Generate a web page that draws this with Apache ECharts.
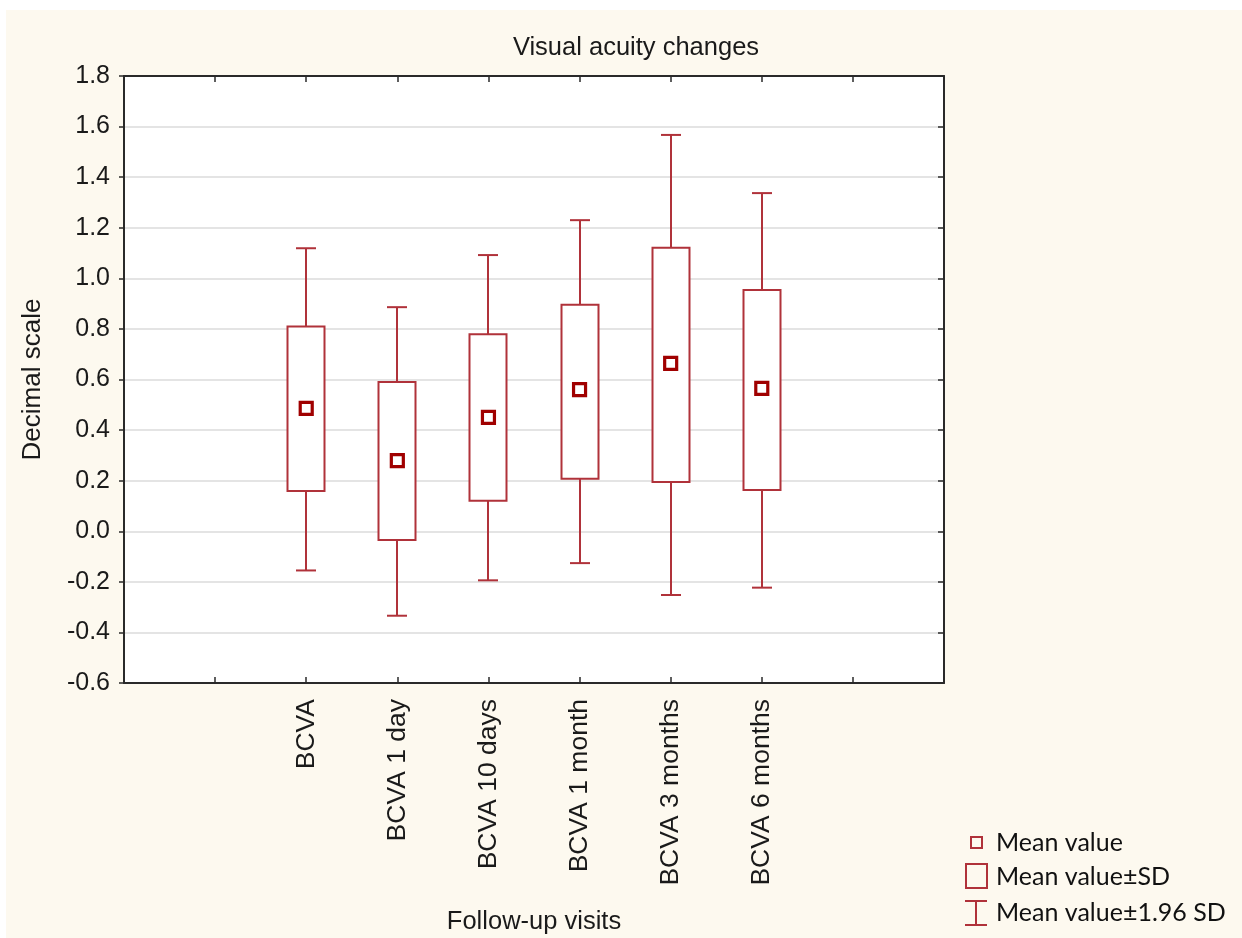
<!DOCTYPE html>
<html>
<head>
<meta charset="utf-8">
<script src="https://cdn.jsdelivr.net/npm/echarts@6/dist/echarts.min.js"></script>
<style>
  html, body { margin: 0; padding: 0; background: #ffffff; }
  #chart { width: 1242px; height: 938px; }
</style>
</head>
<body>
<div id="chart"></div>
<script>
// ---- data ----
const categories   = ['BCVA', 'BCVA 1 day', 'BCVA 10 days', 'BCVA 1 month', 'BCVA 3 months', 'BCVA 6 months'];
const meanValue    = [0.486, 0.279, 0.450, 0.560, 0.664, 0.565];
const sdLower      = [0.159, -0.035, 0.121, 0.208, 0.195, 0.163];
const sdUpper      = [0.810, 0.590, 0.779, 0.896, 1.121, 0.954];
const ci196Lower   = [-0.155, -0.334, -0.194, -0.126, -0.252, -0.223];
const ci196Upper   = [1.119, 0.886, 1.092, 1.230, 1.567, 1.337];
const yTicks       = { min: -0.6, max: 1.8, step: 0.2 };
const categoryOffset = 2;   // first category sits at the 2nd tick slot
const slotCount      = 9;

const BOX_COLOR = '#B0323A';
const MEAN_COLOR = '#A00000';
const AXIS_COLOR = '#2a2a2a';

const boxData = categories.map((c, i) => [i + categoryOffset, ci196Lower[i], sdLower[i], sdUpper[i], ci196Upper[i]]);
const meanData = categories.map((c, i) => [i + categoryOffset, meanValue[i]]);

function renderBox(params, api) {
  const x = api.value(0);
  const pLow = api.coord([x, api.value(1)]);
  const pSdLow = api.coord([x, api.value(2)]);
  const pSdHigh = api.coord([x, api.value(3)]);
  const pHigh = api.coord([x, api.value(4)]);
  const boxW = 37, capW = 20;
  const cx = Math.round(pLow[0]);
  const st = { stroke: BOX_COLOR, lineWidth: 2, fill: null };
  return {
    type: 'group',
    children: [
      { type: 'line', shape: { x1: cx, y1: pLow[1], x2: cx, y2: pSdLow[1] }, style: st },
      { type: 'line', shape: { x1: cx, y1: pSdHigh[1], x2: cx, y2: pHigh[1] }, style: st },
      { type: 'line', shape: { x1: cx - capW / 2, y1: pLow[1], x2: cx + capW / 2, y2: pLow[1] }, style: st },
      { type: 'line', shape: { x1: cx - capW / 2, y1: pHigh[1], x2: cx + capW / 2, y2: pHigh[1] }, style: st },
      { type: 'rect', shape: { x: cx - boxW / 2, y: pSdHigh[1], width: boxW, height: pSdLow[1] - pSdHigh[1] },
        style: { stroke: BOX_COLOR, lineWidth: 2, fill: '#ffffff' } }
    ]
  };
}

const chart = echarts.init(document.getElementById('chart'), null, { renderer: 'canvas' });

const FONT = 'Arial, "Liberation Sans", sans-serif';

const option = {
  backgroundColor: '#FDF9EF',
  animation: false,
  title: {
    text: 'Visual acuity changes',
    left: 631,
    top: 30,
    textAlign: 'center',
    textStyle: { fontFamily: FONT, fontSize: 25.5, fontWeight: 'normal', color: '#1a1a1a' }
  },
  grid: {
    left: 124, top: 76, width: 820, height: 607,
    containLabel: false, outerBoundsMode: 'none',
    show: true, backgroundColor: '#ffffff', borderWidth: 0
  },
  xAxis: [
    {
      type: 'value', min: 0, max: slotCount, interval: 1, position: 'bottom',
      name: 'Follow-up visits', nameLocation: 'middle', nameGap: 226,
      nameTextStyle: { fontFamily: FONT, fontSize: 25.5, color: '#1a1a1a' },
      axisLine: { show: true, onZero: false, lineStyle: { color: AXIS_COLOR, width: 2 } },
      axisTick: { show: true, inside: true, length: 6, lineStyle: { color: AXIS_COLOR, width: 1.5 } },
      splitLine: { show: false },
      axisLabel: {
        rotate: 90, margin: 16, fontFamily: FONT, fontSize: 26.5, color: '#1a1a1a',
        formatter: v => {
          const idx = Math.round(v) - categoryOffset;
          return (idx >= 0 && idx < categories.length) ? categories[idx] : '';
        }
      }
    },
    {
      type: 'value', min: 0, max: slotCount, interval: 1, position: 'top',
      axisLine: { show: true, onZero: false, lineStyle: { color: AXIS_COLOR, width: 2 } },
      axisTick: { show: true, inside: true, length: 6, lineStyle: { color: AXIS_COLOR, width: 1.5 } },
      axisLabel: { show: false },
      splitLine: { show: false }
    }
  ],
  yAxis: [
    {
      type: 'value', min: yTicks.min, max: yTicks.max, interval: yTicks.step, position: 'left',
      name: 'Decimal scale', nameLocation: 'middle', nameGap: 78, nameRotate: 90,
      nameTextStyle: { fontFamily: FONT, fontSize: 26, color: '#1a1a1a' },
      axisLine: { show: true, onZero: false, lineStyle: { color: AXIS_COLOR, width: 2 } },
      axisTick: { show: true, inside: false, length: 5, lineStyle: { color: AXIS_COLOR, width: 1.5 } },
      splitLine: { show: true, lineStyle: { color: '#E4E4E4', width: 2 } },
      axisLabel: { margin: 14, fontFamily: FONT, fontSize: 25, color: '#1a1a1a', formatter: v => v.toFixed(1) }
    },
    {
      type: 'value', min: yTicks.min, max: yTicks.max, interval: yTicks.step, position: 'right',
      axisLine: { show: true, onZero: false, lineStyle: { color: AXIS_COLOR, width: 2 } },
      axisTick: { show: true, inside: true, length: 6, lineStyle: { color: AXIS_COLOR, width: 1.5 } },
      axisLabel: { show: false },
      splitLine: { show: false }
    }
  ],
  series: [
    {
      type: 'custom', name: 'Mean value±1.96 SD', xAxisIndex: 0, yAxisIndex: 0,
      renderItem: renderBox, data: boxData, z: 3,
      encode: { x: 0, y: [1, 2, 3, 4] }
    },
    {
      type: 'scatter', name: 'Mean value', xAxisIndex: 0, yAxisIndex: 0,
      data: meanData, symbol: 'rect', symbolSize: 12, z: 4,
      itemStyle: { color: '#ffffff', borderColor: MEAN_COLOR, borderWidth: 3.2, opacity: 1 }
    }
  ],
  graphic: [
    { type: 'rect', shape: { x: 0, y: 0, width: 1242, height: 10 }, style: { fill: '#ffffff' }, silent: true },
    { type: 'rect', shape: { x: 0, y: 0, width: 6, height: 938 }, style: { fill: '#ffffff' }, silent: true },
    // legend
    { type: 'rect', shape: { x: 971, y: 837, width: 11, height: 11 }, style: { fill: null, stroke: BOX_COLOR, lineWidth: 2 } },
    { type: 'text', x: 996, y: 843, style: { text: 'Mean value', font: '25px Lato, "Open Sans", sans-serif', fill: '#111', textVerticalAlign: 'middle' } },
    { type: 'rect', shape: { x: 966, y: 864, width: 21, height: 24 }, style: { fill: null, stroke: BOX_COLOR, lineWidth: 2 } },
    { type: 'text', x: 996, y: 877, style: { text: 'Mean value±SD', font: '25px Lato, "Open Sans", sans-serif', fill: '#111', textVerticalAlign: 'middle' } },
    { type: 'line', shape: { x1: 976, y1: 901, x2: 976, y2: 925 }, style: { stroke: BOX_COLOR, lineWidth: 2 } },
    { type: 'line', shape: { x1: 965, y1: 901, x2: 987, y2: 901 }, style: { stroke: BOX_COLOR, lineWidth: 2 } },
    { type: 'line', shape: { x1: 965, y1: 925, x2: 987, y2: 925 }, style: { stroke: BOX_COLOR, lineWidth: 2 } },
    { type: 'text', x: 996, y: 913, style: { text: 'Mean value±1.96 SD', font: '25px Lato, "Open Sans", sans-serif', fill: '#111', textVerticalAlign: 'middle' } }
  ]
};
chart.setOption(option);
</script>
</body>
</html>
